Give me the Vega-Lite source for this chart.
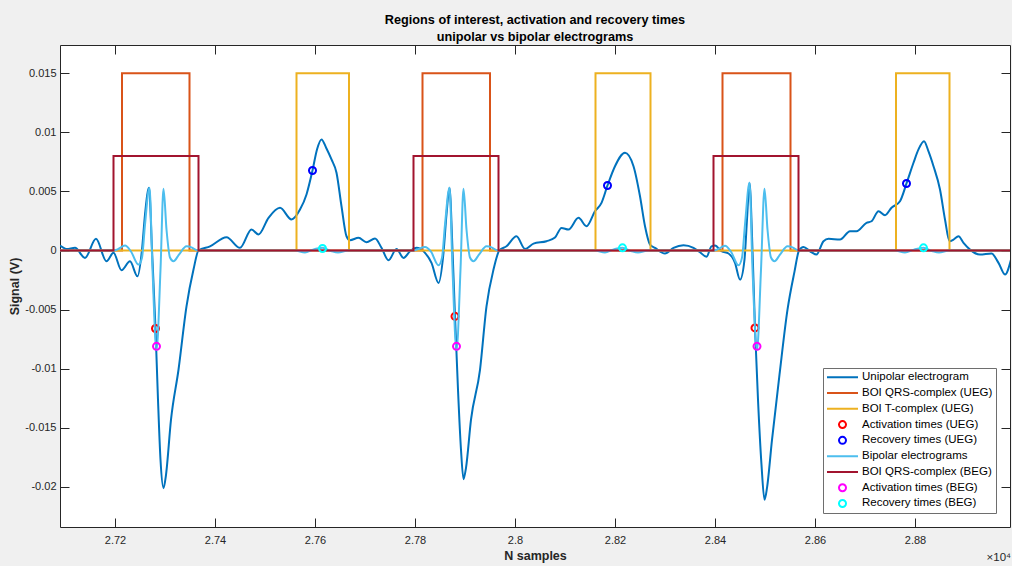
{
  "$schema": "https://vega.github.io/schema/vega-lite/v6.json",
  "width": 950,
  "height": 482,
  "autosize": {"type": "none"},
  "padding": {"left": 60, "top": 45, "right": 2, "bottom": 39},
  "background": "#f0f0f0",
  "title": {
    "text": ["Regions of interest, activation and recovery times", "unipolar vs bipolar electrograms"],
    "fontSize": 12.7, "fontWeight": "bold", "color": "#000000", "lineHeight": 16.4,
    "anchor": "middle", "offset": 1, "font": "Liberation Sans"
  },
  "data": {"values": [
    {"s":"Unipolar electrogram","x":27090,"y":0.00042},{"s":"Unipolar electrogram","x":27103,"y":0.00014},{"s":"Unipolar electrogram","x":27120,"y":0.00023},{"s":"Unipolar electrogram","x":27140,"y":-0.00062},{"s":"Unipolar electrogram","x":27162,"y":0.00099},{"s":"Unipolar electrogram","x":27183,"y":-0.00091},{"s":"Unipolar electrogram","x":27197,"y":-0.00019},{"s":"Unipolar electrogram","x":27213,"y":-0.00167},{"s":"Unipolar electrogram","x":27230,"y":-0.00091},{"s":"Unipolar electrogram","x":27245,"y":-0.00218},{"s":"Unipolar electrogram","x":27254,"y":0.00008},{"s":"Unipolar electrogram","x":27260,"y":0.00305},{"s":"Unipolar electrogram","x":27268,"y":0.00531},{"s":"Unipolar electrogram","x":27274,"y":0.00008},{"s":"Unipolar electrogram","x":27281,"y":-0.00661},{"s":"Unipolar electrogram","x":27286,"y":-0.01263},{"s":"Unipolar electrogram","x":27291,"y":-0.01771},{"s":"Unipolar electrogram","x":27297,"y":-0.02011},{"s":"Unipolar electrogram","x":27302,"y":-0.01898},{"s":"Unipolar electrogram","x":27312,"y":-0.01432},{"s":"Unipolar electrogram","x":27327,"y":-0.01009},{"s":"Unipolar electrogram","x":27343,"y":-0.00472},{"s":"Unipolar electrogram","x":27357,"y":-0.00161},{"s":"Unipolar electrogram","x":27367,"y":0},{"s":"Unipolar electrogram","x":27390,"y":0.00036},{"s":"Unipolar electrogram","x":27423,"y":0.00113},{"s":"Unipolar electrogram","x":27450,"y":0.00023},{"s":"Unipolar electrogram","x":27473,"y":0.00178},{"s":"Unipolar electrogram","x":27487,"y":0.00136},{"s":"Unipolar electrogram","x":27507,"y":0.00277},{"s":"Unipolar electrogram","x":27530,"y":0.00362},{"s":"Unipolar electrogram","x":27553,"y":0.00263},{"s":"Unipolar electrogram","x":27570,"y":0.00347},{"s":"Unipolar electrogram","x":27583,"y":0.00475},{"s":"Unipolar electrogram","x":27595,"y":0.00678},{"s":"Unipolar electrogram","x":27604,"y":0.00856},{"s":"Unipolar electrogram","x":27613,"y":0.00941},{"s":"Unipolar electrogram","x":27622,"y":0.00873},{"s":"Unipolar electrogram","x":27633,"y":0.00771},{"s":"Unipolar electrogram","x":27643,"y":0.00659},{"s":"Unipolar electrogram","x":27653,"y":0.00375},{"s":"Unipolar electrogram","x":27663,"y":0.00121},{"s":"Unipolar electrogram","x":27670,"y":0.00087},{"s":"Unipolar electrogram","x":27687,"y":0.00108},{"s":"Unipolar electrogram","x":27703,"y":0.0007},{"s":"Unipolar electrogram","x":27720,"y":0.00102},{"s":"Unipolar electrogram","x":27733,"y":0.00023},{"s":"Unipolar electrogram","x":27747,"y":-0.00082},{"s":"Unipolar electrogram","x":27763,"y":0.00014},{"s":"Unipolar electrogram","x":27777,"y":-0.00062},{"s":"Unipolar electrogram","x":27790,"y":-0.00006},{"s":"Unipolar electrogram","x":27803,"y":0.00023},{"s":"Unipolar electrogram","x":27820,"y":-0.00019},{"s":"Unipolar electrogram","x":27833,"y":-0.00104},{"s":"Unipolar electrogram","x":27847,"y":-0.00274},{"s":"Unipolar electrogram","x":27857,"y":-0.00019},{"s":"Unipolar electrogram","x":27863,"y":0.00305},{"s":"Unipolar electrogram","x":27869,"y":0.00531},{"s":"Unipolar electrogram","x":27875,"y":0.00008},{"s":"Unipolar electrogram","x":27880,"y":-0.00557},{"s":"Unipolar electrogram","x":27886,"y":-0.01178},{"s":"Unipolar electrogram","x":27892,"y":-0.01687},{"s":"Unipolar electrogram","x":27897,"y":-0.01935},{"s":"Unipolar electrogram","x":27902,"y":-0.01839},{"s":"Unipolar electrogram","x":27912,"y":-0.01432},{"s":"Unipolar electrogram","x":27930,"y":-0.01009},{"s":"Unipolar electrogram","x":27943,"y":-0.00472},{"s":"Unipolar electrogram","x":27957,"y":-0.00161},{"s":"Unipolar electrogram","x":27969,"y":0.00003},{"s":"Unipolar electrogram","x":27983,"y":0.00036},{"s":"Unipolar electrogram","x":28003,"y":0.00121},{"s":"Unipolar electrogram","x":28020,"y":0.00014},{"s":"Unipolar electrogram","x":28037,"y":0.00059},{"s":"Unipolar electrogram","x":28063,"y":0.00079},{"s":"Unipolar electrogram","x":28080,"y":0.0011},{"s":"Unipolar electrogram","x":28093,"y":0.00192},{"s":"Unipolar electrogram","x":28107,"y":0.00178},{"s":"Unipolar electrogram","x":28127,"y":0.00277},{"s":"Unipolar electrogram","x":28143,"y":0.00206},{"s":"Unipolar electrogram","x":28160,"y":0.00333},{"s":"Unipolar electrogram","x":28173,"y":0.00404},{"s":"Unipolar electrogram","x":28185,"y":0.00551},{"s":"Unipolar electrogram","x":28200,"y":0.00714},{"s":"Unipolar electrogram","x":28220,"y":0.00828},{"s":"Unipolar electrogram","x":28237,"y":0.00714},{"s":"Unipolar electrogram","x":28250,"y":0.0046},{"s":"Unipolar electrogram","x":28260,"y":0.00206},{"s":"Unipolar electrogram","x":28270,"y":0.00051},{"s":"Unipolar electrogram","x":28280,"y":0.00023},{"s":"Unipolar electrogram","x":28300,"y":-0.00025},{"s":"Unipolar electrogram","x":28317,"y":0.00023},{"s":"Unipolar electrogram","x":28337,"y":0.00045},{"s":"Unipolar electrogram","x":28357,"y":0.00023},{"s":"Unipolar electrogram","x":28370,"y":-0.00014},{"s":"Unipolar electrogram","x":28383,"y":-0.00053},{"s":"Unipolar electrogram","x":28393,"y":0.00036},{"s":"Unipolar electrogram","x":28400,"y":0.00042},{"s":"Unipolar electrogram","x":28413,"y":-0.00006},{"s":"Unipolar electrogram","x":28427,"y":-0.00025},{"s":"Unipolar electrogram","x":28440,"y":-0.00104},{"s":"Unipolar electrogram","x":28450,"y":-0.00246},{"s":"Unipolar electrogram","x":28459,"y":-0.00076},{"s":"Unipolar electrogram","x":28464,"y":0.00263},{"s":"Unipolar electrogram","x":28469,"y":0.00574},{"s":"Unipolar electrogram","x":28475,"y":0.00008},{"s":"Unipolar electrogram","x":28480,"y":-0.00655},{"s":"Unipolar electrogram","x":28486,"y":-0.01263},{"s":"Unipolar electrogram","x":28493,"y":-0.01814},{"s":"Unipolar electrogram","x":28499,"y":-0.0211},{"s":"Unipolar electrogram","x":28504,"y":-0.02009},{"s":"Unipolar electrogram","x":28514,"y":-0.01602},{"s":"Unipolar electrogram","x":28529,"y":-0.01051},{"s":"Unipolar electrogram","x":28545,"y":-0.005},{"s":"Unipolar electrogram","x":28559,"y":-0.00178},{"s":"Unipolar electrogram","x":28568,"y":0},{"s":"Unipolar electrogram","x":28577,"y":0.00031},{"s":"Unipolar electrogram","x":28590,"y":-0.00006},{"s":"Unipolar electrogram","x":28603,"y":-0.00034},{"s":"Unipolar electrogram","x":28617,"y":0.00079},{"s":"Unipolar electrogram","x":28627,"y":0.00099},{"s":"Unipolar electrogram","x":28650,"y":0.00093},{"s":"Unipolar electrogram","x":28670,"y":0.00164},{"s":"Unipolar electrogram","x":28683,"y":0.00164},{"s":"Unipolar electrogram","x":28703,"y":0.00235},{"s":"Unipolar electrogram","x":28713,"y":0.00248},{"s":"Unipolar electrogram","x":28727,"y":0.00333},{"s":"Unipolar electrogram","x":28740,"y":0.00299},{"s":"Unipolar electrogram","x":28753,"y":0.00362},{"s":"Unipolar electrogram","x":28770,"y":0.00418},{"s":"Unipolar electrogram","x":28783,"y":0.00568},{"s":"Unipolar electrogram","x":28797,"y":0.00743},{"s":"Unipolar electrogram","x":28807,"y":0.00856},{"s":"Unipolar electrogram","x":28818,"y":0.00926},{"s":"Unipolar electrogram","x":28827,"y":0.00839},{"s":"Unipolar electrogram","x":28837,"y":0.00714},{"s":"Unipolar electrogram","x":28850,"y":0.00517},{"s":"Unipolar electrogram","x":28860,"y":0.00263},{"s":"Unipolar electrogram","x":28869,"y":0.00079},{"s":"Unipolar electrogram","x":28877,"y":0.00093},{"s":"Unipolar electrogram","x":28887,"y":0.00121},{"s":"Unipolar electrogram","x":28897,"y":0.00065},{"s":"Unipolar electrogram","x":28910,"y":0.00008},{"s":"Unipolar electrogram","x":28930,"y":-0.00034},{"s":"Unipolar electrogram","x":28953,"y":-0.00025},{"s":"Unipolar electrogram","x":28967,"y":-0.00104},{"s":"Unipolar electrogram","x":28980,"y":-0.00203},{"s":"Unipolar electrogram","x":28992,"y":-0.00076},

    {"s":"BOI QRS-complex (UEG)","x":27090,"y":0},{"s":"BOI QRS-complex (UEG)","x":27214,"y":0.015},{"s":"BOI QRS-complex (UEG)","x":27349,"y":0},{"s":"BOI QRS-complex (UEG)","x":27815,"y":0.015},{"s":"BOI QRS-complex (UEG)","x":27950,"y":0},{"s":"BOI QRS-complex (UEG)","x":28415,"y":0.015},{"s":"BOI QRS-complex (UEG)","x":28551,"y":0},{"s":"BOI QRS-complex (UEG)","x":28992,"y":0},

    {"s":"BOI T-complex (UEG)","x":27090,"y":0},{"s":"BOI T-complex (UEG)","x":27563,"y":0.015},{"s":"BOI T-complex (UEG)","x":27668,"y":0},{"s":"BOI T-complex (UEG)","x":28161,"y":0.015},{"s":"BOI T-complex (UEG)","x":28271,"y":0},{"s":"BOI T-complex (UEG)","x":28762,"y":0.015},{"s":"BOI T-complex (UEG)","x":28869,"y":0},{"s":"BOI T-complex (UEG)","x":28992,"y":0},

    {"s":"Activation times (UEG)","x":27281,"y":-0.0066},{"s":"Activation times (UEG)","x":27880,"y":-0.00557},{"s":"Activation times (UEG)","x":28480,"y":-0.00655},

    {"s":"Recovery times (UEG)","x":27595,"y":0.00678},{"s":"Recovery times (UEG)","x":28185,"y":0.00551},{"s":"Recovery times (UEG)","x":28783,"y":0.00568},

    {"s":"Bipolar electrograms","x":27090,"y":0},{"s":"Bipolar electrograms","x":27197,"y":0},{"s":"Bipolar electrograms","x":27205,"y":0.0001},{"s":"Bipolar electrograms","x":27220,"y":0.00042},{"s":"Bipolar electrograms","x":27232,"y":-0.00008},{"s":"Bipolar electrograms","x":27247,"y":-0.00119},{"s":"Bipolar electrograms","x":27254,"y":-0.0006},{"s":"Bipolar electrograms","x":27260,"y":0.0022},{"s":"Bipolar electrograms","x":27269,"y":0.00531},{"s":"Bipolar electrograms","x":27275,"y":-0.00161},{"s":"Bipolar electrograms","x":27283,"y":-0.0084},{"s":"Bipolar electrograms","x":27291,"y":-0.00161},{"s":"Bipolar electrograms","x":27297,"y":0.00523},{"s":"Bipolar electrograms","x":27303,"y":0.00178},{"s":"Bipolar electrograms","x":27310,"y":-0.00059},{"s":"Bipolar electrograms","x":27317,"y":-0.00091},{"s":"Bipolar electrograms","x":27328,"y":-0.00034},{"s":"Bipolar electrograms","x":27343,"y":0.00036},{"s":"Bipolar electrograms","x":27354,"y":0.00025},{"s":"Bipolar electrograms","x":27363,"y":0.00003},{"s":"Bipolar electrograms","x":27370,"y":0},{"s":"Bipolar electrograms","x":27560,"y":0},{"s":"Bipolar electrograms","x":27580,"y":-0.00017},{"s":"Bipolar electrograms","x":27596,"y":0.00008},{"s":"Bipolar electrograms","x":27615,"y":0.00023},{"s":"Bipolar electrograms","x":27632,"y":-0.00004},{"s":"Bipolar electrograms","x":27646,"y":-0.00017},{"s":"Bipolar electrograms","x":27666,"y":0},{"s":"Bipolar electrograms","x":27797,"y":0},{"s":"Bipolar electrograms","x":27805,"y":0.0001},{"s":"Bipolar electrograms","x":27820,"y":0.0003},{"s":"Bipolar electrograms","x":27832,"y":-0.0001},{"s":"Bipolar electrograms","x":27847,"y":-0.00125},{"s":"Bipolar electrograms","x":27854,"y":-0.0006},{"s":"Bipolar electrograms","x":27860,"y":0.0022},{"s":"Bipolar electrograms","x":27869,"y":0.00531},{"s":"Bipolar electrograms","x":27875,"y":-0.00161},{"s":"Bipolar electrograms","x":27883,"y":-0.0084},{"s":"Bipolar electrograms","x":27891,"y":-0.00161},{"s":"Bipolar electrograms","x":27897,"y":0.00523},{"s":"Bipolar electrograms","x":27903,"y":0.00178},{"s":"Bipolar electrograms","x":27910,"y":-0.00059},{"s":"Bipolar electrograms","x":27917,"y":-0.00091},{"s":"Bipolar electrograms","x":27928,"y":-0.00034},{"s":"Bipolar electrograms","x":27943,"y":0.00036},{"s":"Bipolar electrograms","x":27954,"y":0.00025},{"s":"Bipolar electrograms","x":27963,"y":0.00003},{"s":"Bipolar electrograms","x":27970,"y":0},{"s":"Bipolar electrograms","x":28160,"y":0},{"s":"Bipolar electrograms","x":28180,"y":-0.00017},{"s":"Bipolar electrograms","x":28196,"y":0.00008},{"s":"Bipolar electrograms","x":28215,"y":0.00023},{"s":"Bipolar electrograms","x":28232,"y":-0.00004},{"s":"Bipolar electrograms","x":28246,"y":-0.00017},{"s":"Bipolar electrograms","x":28266,"y":0},{"s":"Bipolar electrograms","x":28397,"y":0},{"s":"Bipolar electrograms","x":28405,"y":0.0001},{"s":"Bipolar electrograms","x":28420,"y":0.0004},{"s":"Bipolar electrograms","x":28432,"y":-0.0001},{"s":"Bipolar electrograms","x":28447,"y":-0.00125},{"s":"Bipolar electrograms","x":28454,"y":-0.0006},{"s":"Bipolar electrograms","x":28460,"y":0.0022},{"s":"Bipolar electrograms","x":28469,"y":0.00574},{"s":"Bipolar electrograms","x":28475,"y":-0.00161},{"s":"Bipolar electrograms","x":28484,"y":-0.0084},{"s":"Bipolar electrograms","x":28492,"y":-0.00161},{"s":"Bipolar electrograms","x":28499,"y":0.00523},{"s":"Bipolar electrograms","x":28505,"y":0.00178},{"s":"Bipolar electrograms","x":28512,"y":-0.00059},{"s":"Bipolar electrograms","x":28519,"y":-0.00091},{"s":"Bipolar electrograms","x":28530,"y":-0.00034},{"s":"Bipolar electrograms","x":28545,"y":0.00036},{"s":"Bipolar electrograms","x":28556,"y":0.00025},{"s":"Bipolar electrograms","x":28565,"y":0.00003},{"s":"Bipolar electrograms","x":28572,"y":0},{"s":"Bipolar electrograms","x":28760,"y":0},{"s":"Bipolar electrograms","x":28780,"y":-0.00017},{"s":"Bipolar electrograms","x":28798,"y":0.00008},{"s":"Bipolar electrograms","x":28817,"y":0.00023},{"s":"Bipolar electrograms","x":28834,"y":-0.00004},{"s":"Bipolar electrograms","x":28848,"y":-0.00017},{"s":"Bipolar electrograms","x":28868,"y":0},{"s":"Bipolar electrograms","x":28992,"y":0},

    {"s":"BOI QRS-complex (BEG)","x":27090,"y":0},{"s":"BOI QRS-complex (BEG)","x":27197,"y":0.008},{"s":"BOI QRS-complex (BEG)","x":27367,"y":0},{"s":"BOI QRS-complex (BEG)","x":27797,"y":0.008},{"s":"BOI QRS-complex (BEG)","x":27967,"y":0},{"s":"BOI QRS-complex (BEG)","x":28397,"y":0.008},{"s":"BOI QRS-complex (BEG)","x":28567,"y":0},{"s":"BOI QRS-complex (BEG)","x":28992,"y":0},

    {"s":"Activation times (BEG)","x":27283,"y":-0.00811},{"s":"Activation times (BEG)","x":27883,"y":-0.00811},{"s":"Activation times (BEG)","x":28484,"y":-0.00811},

    {"s":"Recovery times (BEG)","x":27615,"y":0.00017},{"s":"Recovery times (BEG)","x":28215,"y":0.00023},{"s":"Recovery times (BEG)","x":28817,"y":0.00023}
  ]},
  "encoding": {
    "x": {"field": "x", "type": "quantitative", "scale": {"domain": [27090, 28990], "nice": false, "zero": false}, "axis": null},
    "y": {"field": "y", "type": "quantitative", "scale": {"domain": [-0.0234, 0.0174], "nice": false, "zero": false}, "axis": null},
    "color": {
      "field": "s", "type": "nominal",
      "scale": {
        "domain": ["Unipolar electrogram", "BOI QRS-complex (UEG)", "BOI T-complex (UEG)", "Activation times (UEG)", "Recovery times (UEG)", "Bipolar electrograms", "BOI QRS-complex (BEG)", "Activation times (BEG)", "Recovery times (BEG)"],
        "range": ["#0072BD", "#D95319", "#EDB120", "#FF0000", "#0000FF", "#4DBEEE", "#A2142F", "#FF00FF", "#00FFFF"]
      },
      "legend": {"title": null}
    }
  },
  "layer": [
    {
      "transform": [{"filter": "datum.s === 'Unipolar electrogram'"}],
      "mark": {"type": "line", "interpolate": "monotone", "strokeWidth": 2, "clip": true},
      "encoding": {
        "x": {"field": "x", "type": "quantitative", "axis": {"orient": "bottom", "values": [27200, 27400, 27600, 27800, 28000, 28200, 28400, 28600, 28800], "labelExpr": "format(datum.value / 10000, '.2~f')", "title": "N samples", "labelPadding": 16, "titlePadding": 4}},
        "y": {"field": "y", "type": "quantitative", "axis": {"orient": "left", "values": [-0.02, -0.015, -0.01, -0.005, 0, 0.005, 0.01, 0.015], "labelExpr": "toString(datum.value)", "title": "Signal (V)", "labelPadding": 13, "titlePadding": 3}}
      }
    },
    {
      "transform": [{"filter": "datum.s === 'BOI QRS-complex (UEG)'"}],
      "mark": {"type": "line", "interpolate": "step-after", "strokeWidth": 2, "clip": true},
      "encoding": {
        "x": {"field": "x", "type": "quantitative", "axis": {"orient": "top", "values": [27200, 27400, 27600, 27800, 28000, 28200, 28400, 28600, 28800], "labels": false, "title": null}},
        "y": {"field": "y", "type": "quantitative", "axis": {"orient": "right", "values": [-0.02, -0.015, -0.01, -0.005, 0, 0.005, 0.01, 0.015], "labels": false, "title": null}}
      }
    },
    {
      "transform": [{"filter": "datum.s === 'BOI T-complex (UEG)'"}],
      "mark": {"type": "line", "interpolate": "step-after", "strokeWidth": 2, "clip": true}
    },
    {
      "transform": [{"filter": "datum.s === 'Activation times (UEG)'"}],
      "mark": {"type": "point", "filled": false, "size": 961, "strokeWidth": 2, "opacity": 1, "clip": true},
      "encoding": {
        "shape": {"field": "s", "type": "nominal", "scale": {
          "domain": ["Unipolar electrogram", "BOI QRS-complex (UEG)", "BOI T-complex (UEG)", "Activation times (UEG)", "Recovery times (UEG)", "Bipolar electrograms", "BOI QRS-complex (BEG)", "Activation times (BEG)", "Recovery times (BEG)"],
          "range": ["M-1,0L1,0", "M-1,0L1,0", "M-1,0L1,0", "M0.226,0A0.226,0.226,0,1,1,-0.226,0A0.226,0.226,0,1,1,0.226,0Z", "M0.226,0A0.226,0.226,0,1,1,-0.226,0A0.226,0.226,0,1,1,0.226,0Z", "M-1,0L1,0", "M-1,0L1,0", "M0.226,0A0.226,0.226,0,1,1,-0.226,0A0.226,0.226,0,1,1,0.226,0Z", "M0.226,0A0.226,0.226,0,1,1,-0.226,0A0.226,0.226,0,1,1,0.226,0Z"]
        }, "legend": {"title": null}}
      }
    },
    {
      "transform": [{"filter": "datum.s === 'Recovery times (UEG)'"}],
      "mark": {"type": "point", "filled": false, "size": 961, "strokeWidth": 2, "opacity": 1, "clip": true},
      "encoding": {"shape": {"field": "s", "type": "nominal", "legend": {"title": null}}}
    },
    {
      "transform": [{"filter": "datum.s === 'Bipolar electrograms'"}],
      "mark": {"type": "line", "interpolate": "monotone", "strokeWidth": 2, "clip": true}
    },
    {
      "transform": [{"filter": "datum.s === 'BOI QRS-complex (BEG)'"}],
      "mark": {"type": "line", "interpolate": "step-after", "strokeWidth": 2, "clip": true}
    },
    {
      "transform": [{"filter": "datum.s === 'Activation times (BEG)'"}],
      "mark": {"type": "point", "filled": false, "size": 961, "strokeWidth": 2, "opacity": 1, "clip": true},
      "encoding": {"shape": {"field": "s", "type": "nominal", "legend": {"title": null}}}
    },
    {
      "transform": [{"filter": "datum.s === 'Recovery times (BEG)'"}],
      "mark": {"type": "point", "filled": false, "size": 961, "strokeWidth": 2, "opacity": 1, "clip": true},
      "encoding": {"shape": {"field": "s", "type": "nominal", "legend": {"title": null}}}
    },
    {
      "data": {"values": [{"x": 28990, "y": -0.0234, "t": "×10⁴"}]},
      "mark": {"type": "text", "align": "right", "baseline": "middle", "dy": 31, "dx": 1, "fontSize": 11.5},
      "encoding": {
        "x": {"field": "x", "type": "quantitative", "axis": null},
        "y": {"field": "y", "type": "quantitative", "axis": null},
        "text": {"field": "t"},
        "color": {"value": "#262626"}
      }
    }
  ],
  "resolve": {"axis": {"x": "independent", "y": "independent"}},
  "config": {
    "font": "Liberation Sans",
    "view": {"fill": "white", "stroke": "#262626", "strokeWidth": 1},
    "axis": {"tickSize": -9, "tickColor": "#262626", "tickWidth": 1, "labelColor": "#262626", "labelFontSize": 11, "labelFont": "Liberation Sans", "domain": false, "grid": false, "titleColor": "#262626", "titleFontSize": 12.5, "titleFontWeight": "bold", "titleFont": "Liberation Sans"},
    "legend": {"orient": "bottom-right", "offset": 14, "padding": 3, "fillColor": "white", "strokeColor": "#6e6e6e", "labelFontSize": 11.5, "labelColor": "#000000", "labelFont": "Liberation Sans", "symbolSize": 961, "symbolStrokeWidth": 2, "clipHeight": 12.5, "rowPadding": 2.78, "labelOffset": 3, "labelLimit": 300}
  }
}
